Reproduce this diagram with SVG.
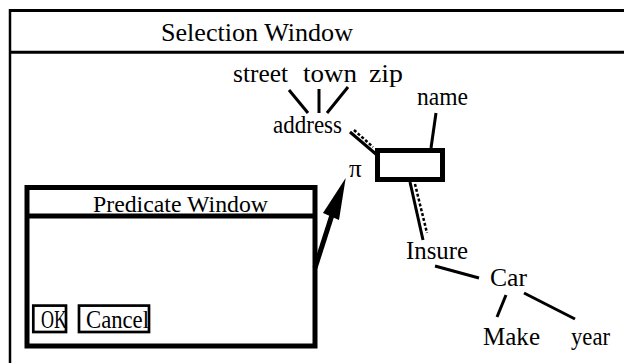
<svg xmlns="http://www.w3.org/2000/svg" width="624" height="363" viewBox="0 0 624 363">
<style>
text{font-family:"Liberation Serif","Times New Roman",serif;fill:#000}
.lbl{font-size:25px}
.frame{fill:none;stroke:#000}
.edge{stroke:#000;stroke-width:3;fill:none;stroke-linecap:butt}
.dash{stroke:#000;stroke-width:2.5;fill:none;stroke-dasharray:3 2}
</style>
<rect width="624" height="363" fill="#fff"/>
<g id="selection-window">
<path class="frame" d="M10,10.5H624M10,52.3H624" stroke-width="3"/>
<path class="frame" d="M10,9V363" stroke-width="2.5"/>
<text x="257" y="41" font-size="26" text-anchor="middle" textLength="192" lengthAdjust="spacingAndGlyphs">Selection Window</text>
</g>
<g id="predicate-window">
<rect class="frame" x="27" y="187.5" width="288" height="158.5" stroke-width="5"/>
<path class="frame" d="M27,216H315" stroke-width="5"/>
<text x="93" y="211.5" font-size="23" textLength="175" lengthAdjust="spacingAndGlyphs">Predicate Window</text>
</g>
<g id="ok-button">
<rect class="frame" x="33.3" y="305.6" width="32.7" height="26.4" stroke-width="2.7"/>
<text x="41" y="328" font-size="26" textLength="26" lengthAdjust="spacingAndGlyphs">OK</text>
</g>
<g id="cancel-button">
<rect class="frame" x="79" y="305.6" width="70" height="26.4" stroke-width="2.7"/>
<text x="86" y="328" font-size="26" textLength="63" lengthAdjust="spacingAndGlyphs">Cancel</text>
</g>
<g id="relation-box">
<rect class="frame" x="377.5" y="150.5" width="65" height="29" stroke-width="5"/>
</g>
<g id="pi"><text class="lbl" x="349" y="177">π</text></g>
<g id="street"><text class="lbl" x="233" y="82" textLength="55" lengthAdjust="spacingAndGlyphs">street</text></g>
<g id="town"><text class="lbl" x="303" y="82" textLength="54" lengthAdjust="spacingAndGlyphs">town</text></g>
<g id="zip"><text class="lbl" x="369" y="82" textLength="34" lengthAdjust="spacingAndGlyphs">zip</text></g>
<g id="address"><text class="lbl" x="273" y="133" textLength="69" lengthAdjust="spacingAndGlyphs">address</text></g>
<g id="name"><text class="lbl" x="417" y="105" textLength="51" lengthAdjust="spacingAndGlyphs">name</text></g>
<g id="insure"><text class="lbl" x="406" y="259" textLength="62" lengthAdjust="spacingAndGlyphs">Insure</text></g>
<g id="car"><text class="lbl" x="490" y="286" textLength="37" lengthAdjust="spacingAndGlyphs">Car</text></g>
<g id="make"><text class="lbl" x="483" y="345" textLength="57" lengthAdjust="spacingAndGlyphs">Make</text></g>
<g id="year"><text class="lbl" x="571" y="345" textLength="39" lengthAdjust="spacingAndGlyphs">year</text></g>
<g id="connectors">
<line class="edge" x1="289" y1="90" x2="308" y2="113"/>
<line class="edge" x1="319" y1="89" x2="319" y2="113"/>
<line class="edge" x1="348" y1="87" x2="327" y2="113"/>
<line class="edge" x1="436" y1="113" x2="431" y2="148"/>
<line class="edge" x1="350" y1="132" x2="377" y2="155"/>
<line class="dash" x1="354" y1="130" x2="373" y2="147"/>
<line class="edge" x1="410" y1="182" x2="423" y2="240"/>
<line class="dash" x1="415" y1="184" x2="427" y2="233"/>
<line class="edge" x1="435" y1="266" x2="479" y2="278"/>
<line class="edge" x1="506" y1="295" x2="497" y2="317"/>
<line class="edge" x1="524" y1="293" x2="575" y2="319"/>
<line x1="315" y1="268" x2="332" y2="215" stroke="#000" stroke-width="5"/>
<polygon points="345.7,178 323,213 339,220" fill="#000"/>
</g>
</svg>
